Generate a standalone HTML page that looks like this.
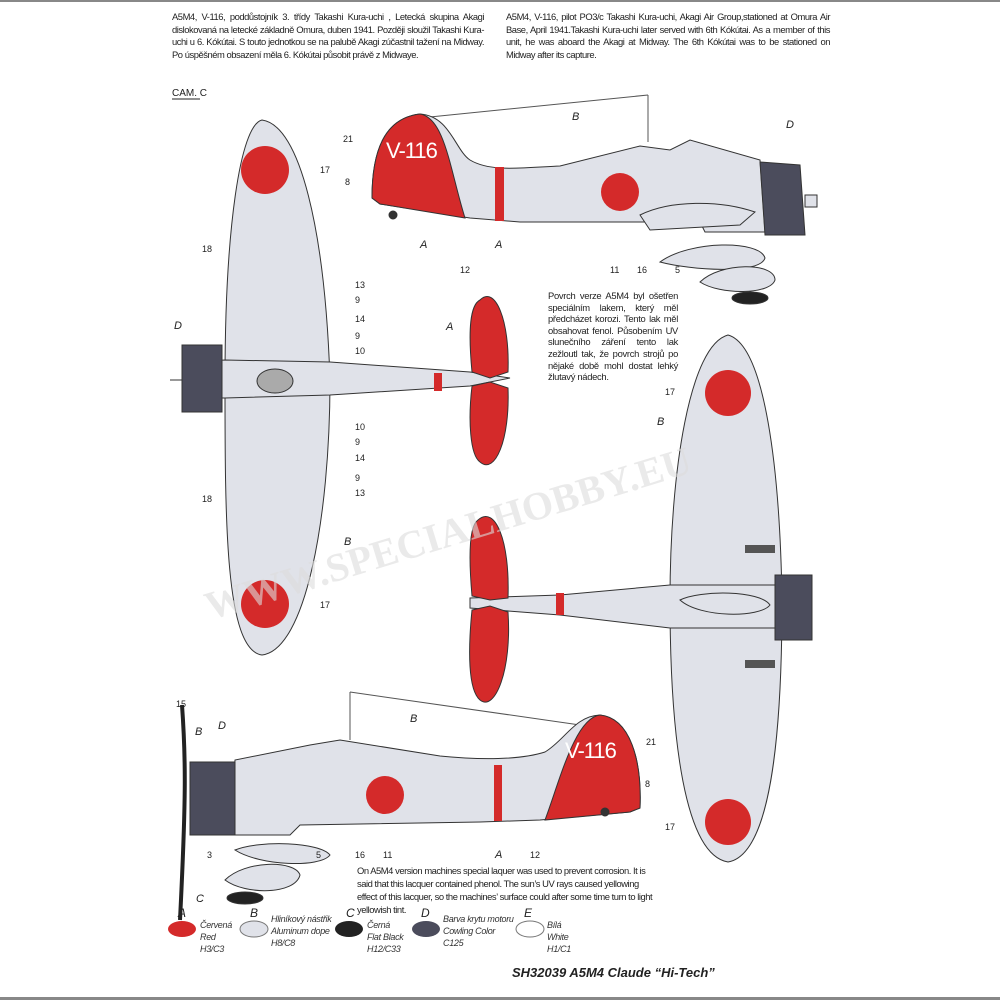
<!DOCTYPE html>
<html><head><meta charset="utf-8"><style>
html,body{margin:0;padding:0;background:#fff}
body{width:1000px;height:1000px;position:relative;overflow:hidden;font-family:"Liberation Sans",sans-serif}
.t{position:absolute;font-size:9.4px;line-height:12.6px;color:#222;text-align:justify;letter-spacing:-0.45px}
svg{position:absolute;left:0;top:0}
</style></head><body>
<svg width="1000" height="1000" viewBox="0 0 1000 1000" font-family="Liberation Sans, sans-serif">
<rect x="0" y="0" width="1000" height="2" fill="#888"/>
<rect x="0" y="997" width="1000" height="3" fill="#888"/>
<g stroke="#333" stroke-width="1" fill="#e0e2e9">
<!-- TOP SIDE VIEW -->
<line x1="420" y1="118" x2="648" y2="95" stroke="#555"/><line x1="648" y1="95" x2="648" y2="142" stroke="#555"/>
<path d="M372,198 C372,150 385,118 420,114 C450,116 455,150 470,160 C490,172 520,168 560,166 L640,146 L670,150 L690,140 L760,160 L765,232 L705,232 L700,222 L520,222 L470,218 L380,204 Z"/>
<path d="M372,198 C372,150 385,118 420,114 C445,118 450,170 465,218 L380,204 Z" fill="#d42a2a"/>
<rect x="495" y="167" width="9" height="54" fill="#d42a2a" stroke="none"/>
<circle cx="620" cy="192" r="19" fill="#d42a2a" stroke="none"/>
<path d="M640,215 C670,200 720,200 755,212 L740,225 L650,230 Z"/>
<path d="M760,162 L800,165 L805,235 L765,235 Z" fill="#4b4c5c"/>
<rect x="805" y="195" width="12" height="12"/>
<path d="M660,262 C690,240 760,240 765,258 C760,275 690,270 660,262Z"/>
<path d="M700,282 C720,262 775,262 775,280 C770,295 720,295 700,282Z"/>
<ellipse cx="750" cy="298" rx="18" ry="6" fill="#222"/>
<circle cx="393" cy="215" r="4" fill="#333"/>
<!-- LEFT TOP VIEW -->
<path d="M262,120 C300,125 325,230 330,380 C330,520 305,650 262,655 C225,650 225,520 225,380 C225,230 240,125 262,120Z"/>
<path d="M185,362 L225,360 L330,362 L470,372 L510,378 L470,386 L330,395 L225,398 L185,398Z"/>
<ellipse cx="275" cy="381" rx="18" ry="12" fill="#aaa"/>
<path d="M182,345 L222,345 L222,412 L182,412Z" fill="#4b4c5c"/>
<line x1="170" y1="380" x2="182" y2="380"/>
<path d="M480,300 C495,285 510,320 508,372 L490,378 L472,372 C468,330 470,305 480,300Z" fill="#d42a2a"/>
<path d="M472,386 L490,382 L508,388 C510,440 495,475 480,462 C470,455 468,420 472,386Z" fill="#d42a2a"/>
<rect x="434" y="373" width="8" height="18" fill="#d42a2a" stroke="none"/>
<circle cx="265" cy="170" r="24" fill="#d42a2a" stroke="none"/>
<circle cx="265" cy="604" r="24" fill="#d42a2a" stroke="none"/>
<!-- RIGHT BOTTOM VIEW -->
<path d="M728,335 C765,345 780,470 782,600 C782,740 770,855 728,862 C685,855 670,740 670,600 C670,470 690,345 728,335Z"/>
<path d="M470,598 L560,595 L670,585 L780,585 L810,590 L810,625 L780,628 L670,628 L560,615 L470,608Z"/>
<path d="M775,575 L812,575 L812,640 L775,640Z" fill="#4b4c5c"/>
<path d="M478,520 C495,505 510,540 508,598 L490,600 L472,596 C468,550 470,525 478,520Z" fill="#d42a2a"/>
<path d="M472,610 L490,606 L508,612 C512,670 495,712 480,700 C468,690 468,650 472,610Z" fill="#d42a2a"/>
<rect x="556" y="593" width="8" height="22" fill="#d42a2a" stroke="none"/>
<circle cx="728" cy="393" r="23" fill="#d42a2a" stroke="none"/>
<circle cx="728" cy="822" r="23" fill="#d42a2a" stroke="none"/>
<path d="M680,600 C700,590 760,590 770,605 C760,618 700,618 680,600Z"/>
<rect x="745" y="660" width="30" height="8" fill="#555" stroke="none"/>
<rect x="745" y="545" width="30" height="8" fill="#555" stroke="none"/>
<!-- BOTTOM SIDE VIEW -->
<line x1="350" y1="692" x2="580" y2="725" stroke="#555"/><line x1="350" y1="692" x2="350" y2="740" stroke="#555"/>
<path d="M640,808 C642,760 630,718 600,715 C575,716 565,740 545,752 C520,760 480,760 440,756 L340,740 L310,745 L235,760 L230,835 L290,835 L300,825 L480,822 L540,820 L630,812Z"/>
<path d="M640,808 C642,760 630,718 600,715 C575,718 560,780 545,820 L630,812Z" fill="#d42a2a"/>
<rect x="494" y="765" width="8" height="56" fill="#d42a2a" stroke="none"/>
<circle cx="385" cy="795" r="19" fill="#d42a2a" stroke="none"/>
<path d="M190,762 L235,762 L235,835 L190,835Z" fill="#4b4c5c"/>
<path d="M182,705 C186,760 186,800 180,920" fill="none" stroke="#222" stroke-width="4"/>
<path d="M235,850 C260,840 320,842 330,855 C320,868 260,866 235,850Z"/>
<path d="M225,880 C245,860 295,860 300,875 C295,895 245,895 225,880Z"/>
<ellipse cx="245" cy="898" rx="18" ry="6" fill="#222"/>
<circle cx="605" cy="812" r="4" fill="#333"/>
</g>
<text x="386" y="158" font-size="22" fill="#fff" letter-spacing="-1">V-116</text>
<text x="565" y="758" font-size="22" fill="#fff" letter-spacing="-1">V-116</text>
<!-- legend -->
<ellipse cx="182" cy="929" rx="14" ry="8" fill="#d42a2a"/>
<ellipse cx="254" cy="929" rx="14" ry="8" fill="#e0e2e9" stroke="#777"/>
<ellipse cx="349" cy="929" rx="14" ry="8" fill="#222"/>
<ellipse cx="426" cy="929" rx="14" ry="8" fill="#4b4c5c"/>
<ellipse cx="530" cy="929" rx="14" ry="8" fill="#fff" stroke="#777"/>
<g font-size="12" font-style="italic" fill="#222">
<text x="178" y="917">A</text><text x="250" y="917">B</text><text x="346" y="917">C</text><text x="421" y="917">D</text><text x="524" y="917">E</text>
</g>
<g font-size="9" font-style="italic" fill="#333" letter-spacing="-0.3">
<text x="200" y="928">Červená</text><text x="200" y="940">Red</text><text x="200" y="952">H3/C3</text>
<text x="271" y="922">Hliníkový nástřik</text><text x="271" y="934">Aluminum dope</text><text x="271" y="946">H8/C8</text>
<text x="367" y="928">Černá</text><text x="367" y="940">Flat Black</text><text x="367" y="952">H12/C33</text>
<text x="443" y="922">Barva krytu motoru</text><text x="443" y="934">Cowling Color</text><text x="443" y="946">C125</text>
<text x="547" y="928">Bílá</text><text x="547" y="940">White</text><text x="547" y="952">H1/C1</text>
</g>
<text x="512" y="977" font-size="13" font-weight="bold" font-style="italic" fill="#222">SH32039 A5M4 Claude “Hi-Tech”</text>
<text x="172" y="96" font-size="10" fill="#222">CAM. C</text>
<line x1="172" y1="99" x2="200" y2="99" stroke="#222"/>
<g font-size="9" fill="#222">
<text x="343" y="142">21</text><text x="345" y="185">8</text><text x="420" y="248" font-style="italic" font-size="11">A</text><text x="495" y="248" font-style="italic" font-size="11">A</text>
<text x="460" y="273">12</text><text x="610" y="273">11</text><text x="637" y="273">16</text><text x="675" y="273">5</text>
<text x="572" y="120" font-style="italic" font-size="11">B</text><text x="786" y="128" font-style="italic" font-size="11">D</text>
<text x="320" y="173">17</text><text x="202" y="252">18</text><text x="355" y="288">13</text><text x="355" y="303">9</text><text x="355" y="322">14</text><text x="355" y="339">9</text><text x="355" y="354">10</text>
<text x="355" y="430">10</text><text x="355" y="445">9</text><text x="355" y="461">14</text><text x="355" y="481">9</text><text x="355" y="496">13</text><text x="202" y="502">18</text><text x="320" y="608">17</text>
<text x="344" y="545" font-style="italic" font-size="11">B</text><text x="446" y="330" font-style="italic" font-size="11">A</text><text x="174" y="329" font-style="italic" font-size="11">D</text>
<text x="665" y="395">17</text><text x="657" y="425" font-style="italic" font-size="11">B</text><text x="665" y="830">17</text>
<text x="176" y="707">15</text><text x="195" y="735" font-style="italic" font-size="11">B</text><text x="218" y="729" font-style="italic" font-size="11">D</text><text x="207" y="858">3</text><text x="196" y="902" font-style="italic" font-size="11">C</text>
<text x="410" y="722" font-style="italic" font-size="11">B</text><text x="646" y="745">21</text><text x="645" y="787">8</text>
<text x="355" y="858">16</text><text x="383" y="858">11</text><text x="495" y="858" font-style="italic" font-size="11">A</text><text x="530" y="858">12</text><text x="316" y="858">5</text>
</g>
<text x="210" y="620" font-size="40" font-weight="bold" fill="#ddd" opacity="0.6" transform="rotate(-17 210 620)" font-family="Liberation Serif, serif">WWW.SPECIALHOBBY.EU</text>
</svg>
<div class="t" style="left:172px;top:11px;width:312px">A5M4, V-116, poddůstojník 3. třídy Takashi Kura-uchi , Letecká skupina Akagi dislokovaná na letecké základně Omura, duben 1941. Později sloužil Takashi Kura-uchi u 6. Kókútai. S touto jednotkou se na palubě Akagi zúčastnil tažení na Midway. Po úspěšném obsazení měla 6. Kókútai působit právě z Midwaye.</div>
<div class="t" style="left:506px;top:11px;width:324px">A5M4, V-116, pilot PO3/c Takashi Kura-uchi, Akagi Air Group,stationed at Omura Air Base, April 1941.Takashi Kura-uchi later served with 6th Kókútai. As a member of this unit, he was aboard the Akagi at Midway. The 6th Kókútai was to be stationed on Midway after its capture.</div>
<div class="t" style="left:548px;top:290px;width:130px;line-height:11.6px;letter-spacing:-0.3px">Povrch verze A5M4 byl ošetřen speciálním lakem, který měl předcházet korozi. Tento lak měl obsahovat fenol. Působením UV slunečního záření tento lak zežloutl tak, že povrch strojů po nějaké době mohl dostat lehký žlutavý nádech.</div>
<div class="t" style="left:357px;top:864px;width:300px;text-align:left;line-height:13px">On A5M4 version machines special laquer was used to prevent corrosion. It is said that this lacquer contained phenol. The sun’s UV rays caused yellowing effect of this lacquer, so the machines’ surface could after some time turn to light yellowish tint.</div>
</body></html>
